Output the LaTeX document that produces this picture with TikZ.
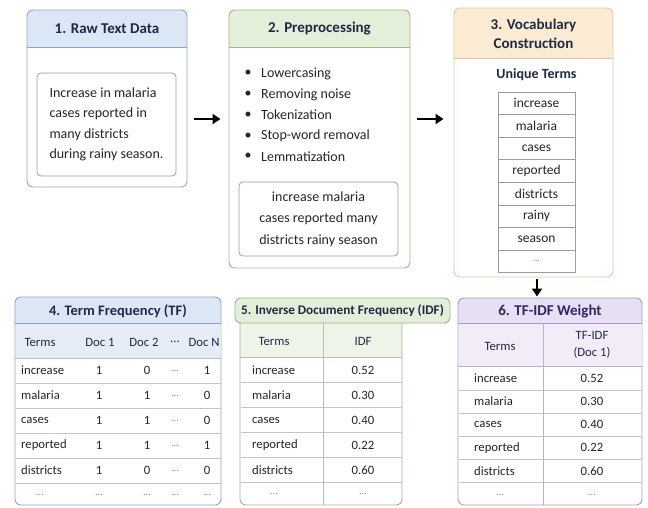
\documentclass[tikz,border=0pt]{standalone}
\usepackage{fontspec}
\setmainfont{Carlito}
\usetikzlibrary{arrows.meta,fit}
\definecolor{titlec}{HTML}{1F2A44}
\definecolor{bodyc}{HTML}{262626}
\definecolor{hblue}{HTML}{DCE7F6}
\definecolor{hblue2}{HTML}{E6ECF5}
\definecolor{bblue}{HTML}{8EA6C6}
\definecolor{hgreen}{HTML}{E4EFD9}
\definecolor{hgreen2}{HTML}{EEF4E8}
\definecolor{bgreen}{HTML}{9DB68B}
\definecolor{horange}{HTML}{FBEBD2}
\definecolor{borange}{HTML}{E2C89F}
\definecolor{hpurple}{HTML}{E7DFF4}
\definecolor{hpurple2}{HTML}{F1ECF8}
\definecolor{bpurple}{HTML}{A99CC9}
\definecolor{tpurple}{HTML}{33275E}
\definecolor{linec}{HTML}{C4C4C4}
\definecolor{boxg}{HTML}{9C9C9C}
\newcommand{\mkpanel}[8]{%
  \begin{scope}
    \clip[rounded corners=6pt] (#2,#3) rectangle (#4,#5);
    \fill[#7] (#2,#3) rectangle (#4,#6);
  \end{scope}
  \node[panel, draw=#8, fit={(#2,#3) (#4,#5)}] (#1) {};
  \draw[#8, line width=0.8pt] (#2,#6) -- (#4,#6);
}
\begin{document}
\begin{tikzpicture}[x=1pt,y=-1pt,
  panel/.style={rounded corners=6pt, line width=0.9pt, inner sep=0pt},
  title/.style={font=\fontsize{15}{18}\selectfont\bfseries, text=titlec, align=center},
  body/.style={font=\fontsize{14}{16}\selectfont, text=bodyc},
  cell/.style={font=\fontsize{12.7}{14}\selectfont, text=bodyc, inner sep=0pt},
  hcell/.style={font=\fontsize{12.7}{14}\selectfont, text=titlec, inner sep=0pt},
  dotc/.style={font=\fontsize{10}{11}\selectfont, text=gray, inner sep=0pt},
  inbox/.style={draw=boxg, rounded corners=4pt, line width=0.8pt, inner sep=0pt},
  arr/.style={line width=2.3pt, -{Triangle[length=8pt,width=10pt]}},
  rowline/.style={draw=linec, line width=0.7pt},
  termcell/.style={draw=boxg, line width=0.8pt, minimum width=77pt, minimum height=22.6pt, inner sep=0pt, font=\fontsize{13.5}{15}\selectfont, text=bodyc}
]
\useasboundingbox[fill=white] (0,0) rectangle (648,507);

% ---------- Box 1 ----------
\mkpanel{b1}{27}{10}{187}{187}{47}{hblue}{bblue}
\node[title] (t1) at (107,29) {1. Raw Text Data};
\node[inbox, fit={(37,73) (176,176)}] (in1) {};
\node[body, align=left, font=\fontsize{14}{20.5}\selectfont] (raw) at (in1.center) {Increase in malaria\\cases reported in\\many districts\\during rainy season.};

% ---------- Box 2 ----------
\mkpanel{b2}{229}{10}{410}{268}{47}{hgreen}{bgreen}
\node[title] (t2) at (319.5,29) {2. Preprocessing};
\foreach \txt [count=\i] in {Lowercasing, Removing noise, Tokenization, Stop-word removal, Lemmatization}{
  \node[body, anchor=west, inner sep=0pt] (p\i) at (261,53+\i*20.7) {\txt};
  \node[body, inner sep=0pt] (bu\i) at (248,53+\i*20.7) {\textbullet};
}
\node[inbox, fit={(239,182) (398,256)}] (in2) {};
\node[body, align=center, font=\fontsize{14}{21.5}\selectfont] (clean) at (in2.center) {increase malaria\\cases reported many\\districts rainy season};

% ---------- Box 3 ----------
\mkpanel{b3}{454}{8}{613}{277}{58}{horange}{borange}
\node[title, font=\fontsize{15}{19}\selectfont\bfseries] (t3) at (533.5,34) {3. Vocabulary\\Construction};
\node[font=\fontsize{14}{16}\selectfont\bfseries, text=titlec] (ut) at (536.5,75) {Unique Terms};
\foreach \w [count=\i] in {increase, malaria, cases, reported, districts, rainy, season}{
  \node[termcell] (v\i) at (536.5,80.7+\i*22.6) {\w};
}
\node[termcell, font=\fontsize{9}{10}\selectfont, text=gray] (v8) at (536.5,80.7+8*22.6) {...};

% ---------- Box 4 : TF ----------
\mkpanel{b4}{15}{297}{221}{505}{323}{hblue}{bblue}
\fill[hblue2] (15.5,323.5) rectangle (220.5,358);
\draw[bblue, line width=0.8pt] (15,323) -- (221,323);
\node[title, font=\fontsize{14.5}{17}\selectfont\bfseries] (t4) at (118,311) {4. Term Frequency (TF)};
\draw[bblue!70, line width=0.8pt] (15,358) -- (221,358);
\foreach \y in {383,408,433,458,483}{ \draw[rowline] (15.5,\y) -- (220.5,\y); }
\node[hcell] (h41) at (40,342) {Terms};
\node[hcell] (h42) at (100,342) {Doc 1};
\node[hcell] (h43) at (144,342) {Doc 2};
\node[hcell] (h44) at (175,342) {...};
\node[hcell] (h45) at (204,342) {Doc N};
\foreach \t/\a/\b/\c [count=\i] in {increase/1/0/1, malaria/1/1/0, cases/1/1/0, reported/1/1/1, districts/1/0/0}{
  \node[cell, anchor=west] (r4t\i) at (21,345.5+\i*25) {\t};
  \node[cell] (r4a\i) at (99,345.5+\i*25) {\a};
  \node[cell] (r4b\i) at (147,345.5+\i*25) {\b};
  \node[dotc] (r4d\i) at (175,345.5+\i*25) {...};
  \node[cell] (r4c\i) at (207,345.5+\i*25) {\c};
}
\foreach \x [count=\i] in {40,99,147,175,207}{ \node[dotc] (r4e\i) at (\x,494.5) {...}; }

% ---------- Box 5 : IDF ----------
\begin{scope}
  \clip[rounded corners=6pt] (240,310) rectangle (402,505);
  \fill[hgreen2] (240,323) rectangle (402,357);
\end{scope}
\node[panel, draw=bgreen, fit={(240,310) (402,505)}] (b5t) {};
\foreach \y in {382.5,407.5,432.5,457.5,482.5}{ \draw[rowline] (240.5,\y) -- (401.5,\y); }
\draw[bgreen!80, line width=0.8pt] (240,357) -- (402,357);
\draw[bgreen!80, line width=0.8pt] (323,323) -- (323,505);
\node[panel, draw=bgreen, fill=hgreen, fit={(235,298) (450,323)}] (b5) {};
\node[title, font=\fontsize{13.2}{15}\selectfont\bfseries] (t5) at (b5.center) {5. Inverse Document Frequency (IDF)};
\node[hcell] (h51) at (274,341) {Terms};
\node[hcell] (h52) at (363,341) {IDF};
\foreach \t/\v [count=\i] in {increase/0.52, malaria/0.30, cases/0.40, reported/0.22, districts/0.60}{
  \node[cell, anchor=west] (r5t\i) at (252,345+\i*25) {\t};
  \node[cell] (r5v\i) at (363,345+\i*25) {\v};
}
\node[dotc] (r5e1) at (274,494) {...};
\node[dotc] (r5e2) at (363,494) {...};

% ---------- Box 6 : TF-IDF ----------
\mkpanel{b6}{458}{298}{642}{505}{323}{hpurple}{bpurple}
\fill[hpurple2] (458.5,323.5) rectangle (641.5,366);
\draw[bpurple, line width=0.8pt] (458,323) -- (642,323);
\node[title, text=tpurple] (t6) at (550,312) {6. TF-IDF Weight};
\draw[bpurple!80, line width=0.8pt] (458,366) -- (642,366);
\foreach \y in {390,413,436,459,482}{ \draw[rowline] (458.5,\y) -- (641.5,\y); }
\draw[bpurple!80, line width=0.8pt] (543,323) -- (543,505);
\node[hcell] (h61) at (500,346) {Terms};
\node[hcell, align=center, font=\fontsize{12.7}{17}\selectfont] (h62) at (592,345) {TF-IDF\\(Doc 1)};
\foreach \t/\v [count=\i] in {increase/0.52, malaria/0.30, cases/0.40, reported/0.22, districts/0.60}{
  \node[cell, anchor=west] (r6t\i) at (474,355+\i*23.2) {\t};
  \node[cell] (r6v\i) at (592,355+\i*23.2) {\v};
}
\node[dotc] (r6e1) at (500,494.5) {...};
\node[dotc] (r6e2) at (592,494.5) {...};

% ---------- Arrows ----------
\draw[arr] ([xshift=7pt,yshift=-20.5pt]b1.east) -- ([xshift=-8pt,yshift=-20.5pt]b1.east -| b2.west);
\draw[arr] ([xshift=7pt,yshift=-20.5pt]b1.east -| b2.east) -- ([xshift=-10pt,yshift=-20.5pt]b1.east -| b3.west);
\draw[arr] ([xshift=3.5pt,yshift=-1.5pt]b3.south) -- ([xshift=3.5pt,yshift=1pt]b3.south |- b6.north);
\end{tikzpicture}
\end{document}
